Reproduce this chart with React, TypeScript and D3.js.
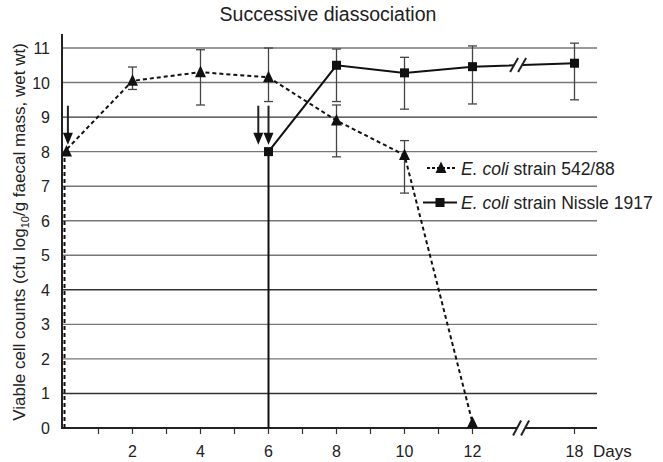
import React, { useRef, useEffect } from "react";
import * as d3 from "d3";

// E. coli strain 542/88 (dashed, triangles)
const strainDays = [0, 0, 2, 4, 6, 8, 10, 12];
const strainValues = [0, 8, 10.05, 10.3, 10.15, 8.9, 7.9, 0.15];
const strainLow = [null, null, 9.8, 9.35, 9.45, 7.85, 6.8, null];
const strainHigh = [null, null, 10.45, 10.95, 11.0, 9.35, 8.32, null];
const strainMarker = [false, true, true, true, true, true, true, true];

// E. coli strain Nissle 1917 (solid, squares)
const nissleDays = [6, 6, 8, 10, 12, 18];
const nissleValues = [0, 8, 10.5, 10.28, 10.46, 10.56];
const nissleLow = [null, null, 9.45, 9.23, 9.38, 9.5];
const nissleHigh = [null, null, 10.97, 10.73, 11.06, 11.14];
const nissleMarker = [false, true, true, true, true, true];

// inoculation arrows
const arrowDays = [0.1, 5.7, 6];

const yTicks = [0, 1, 2, 3, 4, 5, 6, 7, 8, 9, 10, 11];
const xLabelDays = [2, 4, 6, 8, 10, 12, 18];
const xTickDays = [1, 2, 3, 4, 5, 6, 7, 8, 9, 10, 11, 12, 18];

const FONT = '"Liberation Sans", Arial, sans-serif';

const App = () => {
  const chartRef = useRef<HTMLDivElement>(null);

  useEffect(() => {
    const width = 663;
    const height = 462;
    const svg = d3
      .select(chartRef.current)
      .append("svg")
      .attr("width", width)
      .attr("height", height)
      .style("position", "absolute")
      .style("left", "0px")
      .style("top", "0px")
      .style("font-family", FONT);

    svg.append("rect").attr("width", width).attr("height", height).attr("fill", "#fff");

    // day 18 is drawn 3 days after 12 (broken axis)
    const base = d3.scaleLinear().domain([0, 15.6]).range([64.5, 64.5 + 15.6 * 34]);
    const x = (d: number) => base(d <= 12 ? d : d - 3);
    const y = d3.scaleLinear().domain([0, 11]).range([428, 48]);
    const axisLeft = 62;
    const axisRight = 597;
    const breakX = base(13.4);

    // title
    svg
      .append("text")
      .attr("x", 328)
      .attr("y", 21)
      .attr("text-anchor", "middle")
      .style("font-size", "19.5px")
      .attr("fill", "#222")
      .text("Successive diassociation");

    // gridlines
    svg
      .append("g")
      .selectAll("line")
      .data(yTicks.filter((t) => t > 0))
      .enter()
      .append("line")
      .attr("x1", axisLeft)
      .attr("x2", axisRight)
      .attr("y1", (d) => y(d))
      .attr("y2", (d) => y(d))
      .attr("stroke", (d) => (d === 9 || d === 4 || d === 1 ? "#333" : "#777"))
      .attr("stroke-width", 1.4);

    // y tick labels
    svg
      .append("g")
      .selectAll("text")
      .data(yTicks)
      .enter()
      .append("text")
      .attr("x", 50)
      .attr("y", (d) => y(d) + 6)
      .attr("text-anchor", "end")
      .style("font-size", "16px")
      .attr("fill", "#222")
      .text((d) => d);

    // y axis label
    const yl = svg
      .append("text")
      .attr("transform", `translate(25,${232}) rotate(-90)`)
      .attr("text-anchor", "middle")
      .style("font-size", "17px")
      .attr("fill", "#222");
    yl.append("tspan").text("Viable cell counts (cfu log");
    yl.append("tspan").attr("dy", 4).style("font-size", "11px").text("10");
    yl.append("tspan").attr("dy", -4).text("/g faecal mass, wet wt)");

    // x ticks and labels
    svg
      .append("g")
      .selectAll("line")
      .data(xTickDays)
      .enter()
      .append("line")
      .attr("x1", (d) => x(d))
      .attr("x2", (d) => x(d))
      .attr("y1", y(0))
      .attr("y2", y(0) + 6)
      .attr("stroke", "#333")
      .attr("stroke-width", 1.2);

    svg
      .append("g")
      .selectAll("text")
      .data(xLabelDays)
      .enter()
      .append("text")
      .attr("x", (d) => x(d))
      .attr("y", 457)
      .attr("text-anchor", "middle")
      .style("font-size", "16px")
      .attr("fill", "#222")
      .text((d) => d);

    svg
      .append("text")
      .attr("x", 593)
      .attr("y", 457)
      .style("font-size", "17px")
      .attr("fill", "#222")
      .text("Days");

    // axes
    svg
      .append("line")
      .attr("x1", axisLeft)
      .attr("x2", axisLeft)
      .attr("y1", y(0) + 1)
      .attr("y2", 34)
      .attr("stroke", "#222")
      .attr("stroke-width", 2);
    svg
      .append("line")
      .attr("x1", axisLeft)
      .attr("x2", axisRight)
      .attr("y1", y(0))
      .attr("y2", y(0))
      .attr("stroke", "#222")
      .attr("stroke-width", 2.2);

    const drawBreak = (cx: number, cy: number, h: number) => {
      const g = svg.append("g");
      g.append("rect")
        .attr("x", cx - 4)
        .attr("y", cy - 3)
        .attr("width", 8)
        .attr("height", 6)
        .attr("fill", "#fff");
      [-4, 4].forEach((o) => {
        g.append("line")
          .attr("x1", cx + o - 4)
          .attr("y1", cy + h / 2)
          .attr("x2", cx + o + 4)
          .attr("y2", cy - h / 2)
          .attr("stroke", "#222")
          .attr("stroke-width", 2);
      });
    };

    // error bars
    const errorBars = (days: number[], low: (number | null)[], high: (number | null)[]) => {
      const g = svg.append("g").attr("stroke", "#444").attr("stroke-width", 1.3);
      days.forEach((d, i) => {
        const lo = low[i];
        const hi = high[i];
        if (lo === null || hi === null) return;
        g.append("line").attr("x1", x(d)).attr("x2", x(d)).attr("y1", y(lo)).attr("y2", y(hi));
        [lo, hi].forEach((v) => {
          g.append("line")
            .attr("x1", x(d) - 4.5)
            .attr("x2", x(d) + 4.5)
            .attr("y1", y(v))
            .attr("y2", y(v));
        });
      });
    };
    errorBars(strainDays, strainLow, strainHigh);
    errorBars(nissleDays, nissleLow, nissleHigh);

    // arrows
    arrowDays.forEach((d) => {
      const ax = x(d);
      svg
        .append("line")
        .attr("x1", ax)
        .attr("x2", ax)
        .attr("y1", y(9.33))
        .attr("y2", y(8.5))
        .attr("stroke", "#222")
        .attr("stroke-width", 2);
      svg
        .append("path")
        .attr("d", `M${ax - 5},${y(8.55)} L${ax + 5},${y(8.55)} L${ax},${y(8.2)} Z`)
        .attr("fill", "#111");
    });

    const seriesLine = d3
      .line<[number, number]>()
      .x((p) => x(p[0]))
      .y((p) => y(p[1]));

    const strainPts: [number, number][] = strainDays.map((d, i) => [d, strainValues[i]]);
    const nisslePts: [number, number][] = nissleDays.map((d, i) => [d, nissleValues[i]]);

    svg
      .append("path")
      .attr("d", seriesLine(strainPts))
      .attr("fill", "none")
      .attr("stroke", "#111")
      .attr("stroke-width", 2)
      .attr("stroke-dasharray", "4,3");

    svg
      .append("path")
      .attr("d", seriesLine(nisslePts))
      .attr("fill", "none")
      .attr("stroke", "#111")
      .attr("stroke-width", 2);

    // breaks
    const yAtBreak = y(
      nissleValues[4] + ((nissleValues[5] - nissleValues[4]) * (breakX - x(12))) / (x(18) - x(12))
    );
    drawBreak(breakX - 2, yAtBreak, 14);
    drawBreak(breakX + 1, y(0), 15);

    const triangle = (cx: number, cy: number, s: number) =>
      `M${cx},${cy - s * 0.6} L${cx + s / 2},${cy + s * 0.45} L${cx - s / 2},${cy + s * 0.45} Z`;

    strainPts.forEach((p, i) => {
      if (!strainMarker[i]) return;
      svg
        .append("path")
        .attr("d", triangle(x(p[0]) + (p[0] === 0 ? 2 : 0), y(p[1]), 11))
        .attr("fill", "#111");
    });
    nisslePts.forEach((p, i) => {
      if (!nissleMarker[i]) return;
      svg
        .append("rect")
        .attr("x", x(p[0]) - 4.5)
        .attr("y", y(p[1]) - 4.5)
        .attr("width", 9)
        .attr("height", 9)
        .attr("fill", "#111");
    });

    // legend
    const legend = [
      { label: "strain 542/88", y: 168, dashed: true, x1: 427 },
      { label: "strain Nissle 1917", y: 202.5, dashed: false, x1: 423 },
    ];
    legend.forEach((l) => {
      svg
        .append("line")
        .attr("x1", l.x1)
        .attr("x2", 457)
        .attr("y1", l.y)
        .attr("y2", l.y)
        .attr("stroke", "#111")
        .attr("stroke-width", 2)
        .attr("stroke-dasharray", l.dashed ? "3,2" : null);
      if (l.dashed) {
        svg.append("path").attr("d", triangle(441, l.y, 11)).attr("fill", "#111");
      } else {
        svg
          .append("rect")
          .attr("x", 435.5)
          .attr("y", l.y - 4.5)
          .attr("width", 9)
          .attr("height", 9)
          .attr("fill", "#111");
      }
      const t = svg
        .append("text")
        .attr("x", 461)
        .attr("y", l.y + 6.5)
        .style("font-size", "17.5px")
        .attr("fill", "#222");
      t.append("tspan").style("font-style", "italic").text("E. coli");
      t.append("tspan").text(" " + l.label);
    });

    return () => {
      if (chartRef.current) chartRef.current.innerHTML = "";
    };
  }, []);

  return <div ref={chartRef}></div>;
};

export default App;
